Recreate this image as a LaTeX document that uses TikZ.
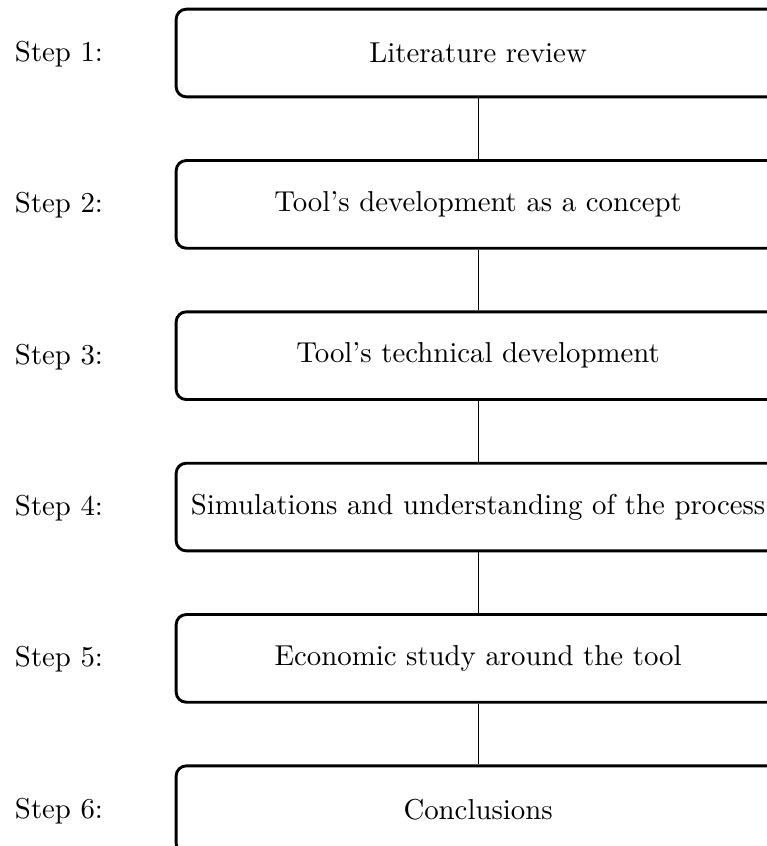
\documentclass[tikz,border=0pt]{standalone}
\usepackage{tikz}
\usetikzlibrary{positioning}
\tikzset{stepbox/.style={draw=black, line width=1pt, rounded corners=3.5pt, minimum width=7.37cm, minimum height=1.07cm, align=center},
         steplabel/.style={inner sep=0pt}}

\begin{document}
\begin{tikzpicture}
                        \useasboundingbox (0, 0) rectangle (9.36, -10.325);

                        \node[stepbox] (lit) at (5.835, -0.647) {Literature review};
                        \node[stepbox] (concept) at (5.835, -2.494) {Tool's development as a concept};
                        \node[stepbox] (tech) at (5.835, -4.341) {Tool's technical development};
                        \node[stepbox] (sim) at (5.835, -6.188) {Simulations and understanding of the process};
                        \node[stepbox] (eco) at (5.835, -8.035) {Economic study around the tool};
                        \node[stepbox] (concl) at (5.835, -9.882) {Conclusions};

                        \draw
                        (lit) -- (concept)
                        (concept) -- (tech)
                        (tech) -- (sim)
                        (sim) -- (eco)
                        (eco) -- (concl);

                        \node[steplabel] (s1) at (0.72, -0.66) {Step 1:};
                        \node[steplabel] (s2) at (0.72, -2.507) {Step 2:};
                        \node[steplabel] (s3) at (0.72, -4.354) {Step 3:};
                        \node[steplabel] (s4) at (0.72, -6.201) {Step 4:};
                        \node[steplabel] (s5) at (0.72, -8.048) {Step 5:};
                        \node[steplabel] (s6) at (0.72, -9.895) {Step 6:};
                    \end{tikzpicture}
\end{document}
